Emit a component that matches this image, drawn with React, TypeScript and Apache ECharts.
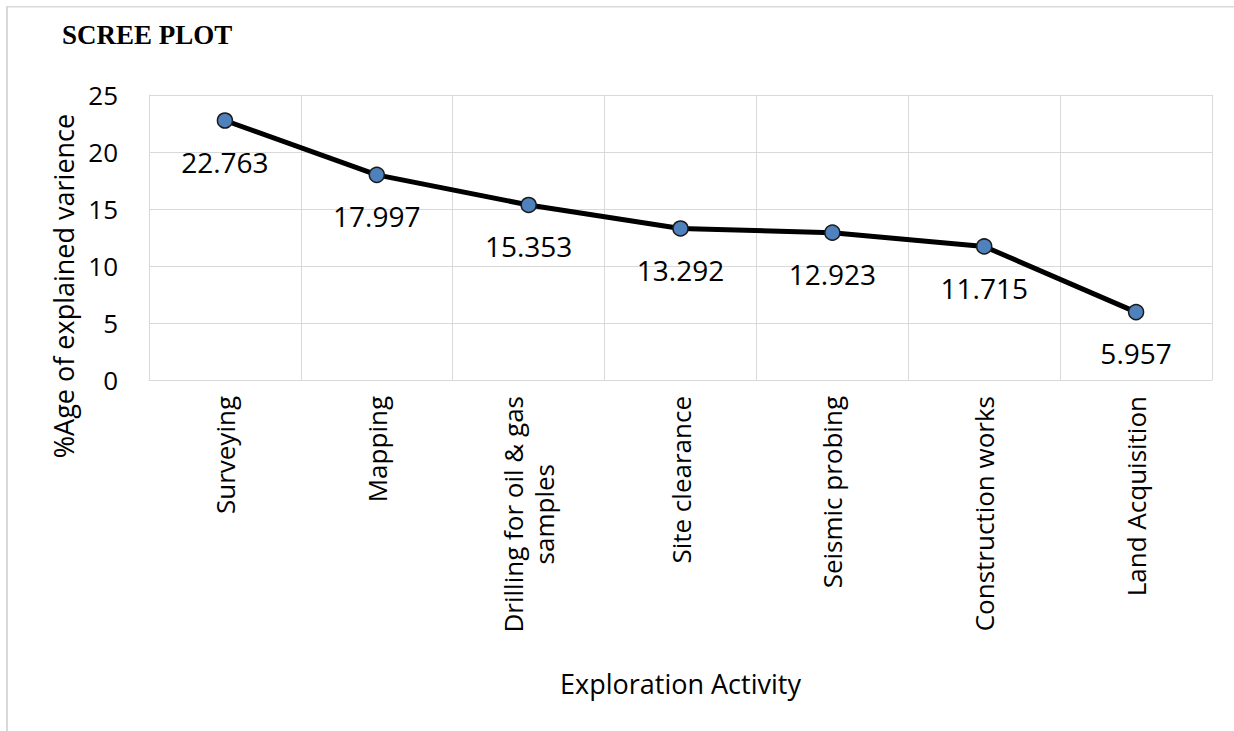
import React, { useEffect, useRef } from "react";
import * as echarts from "echarts";

// Scree plot: share of explained variance per exploration activity
const activities = [
  "Surveying",
  "Mapping",
  "Drilling for oil & gas\nsamples",
  "Site clearance",
  "Seismic probing",
  "Construction works",
  "Land Acquisition",
];
const variance = [22.763, 17.997, 15.353, 13.292, 12.923, 11.715, 5.957];
const yTicks = { min: 0, max: 25, interval: 5 };

const FONT = "'Open Sans', 'Noto Sans', sans-serif";
const GRID_COLOR = "#d9d9d9";

export default function App() {
  const ref = useRef<HTMLDivElement>(null);

  useEffect(() => {
    if (!ref.current) return;
    const chart = echarts.init(ref.current, undefined, { renderer: "svg" });
    chart.setOption({
      animation: false,
      backgroundColor: "#ffffff",
      grid: { left: 143, top: 89, right: 22, bottom: 351, containLabel: false },
      graphic: [
        {
          type: "rect",
          x: 0,
          y: 0,
          shape: { x: 1, y: 0.5, width: 1400, height: 900 },
          style: { fill: "none", stroke: GRID_COLOR, lineWidth: 2 },
          silent: true,
        },
        {
          type: "text",
          x: 56,
          y: 29,
          style: {
            text: "SCREE PLOT",
            font: "bold 27px 'Liberation Serif', 'Times New Roman', serif",
            fill: "#000",
            textAlign: "left",
            textVerticalAlign: "middle",
          },
        },
        {
          type: "text",
          x: 57,
          y: 280,
          rotation: Math.PI / 2,
          style: {
            text: "%Age of explained varience",
            fontSize: 27,
            fontFamily: FONT,
            fill: "#000",
            textAlign: "center",
            textVerticalAlign: "middle",
          },
        },
      ],
      xAxis: {
        type: "category",
        data: activities,
        boundaryGap: true,
        name: "Exploration Activity",
        nameLocation: "middle",
        nameGap: 290,
        nameTextStyle: { fontSize: 27, fontFamily: FONT, color: "#000" },
        axisLine: { show: true, lineStyle: { color: GRID_COLOR, width: 1 } },
        axisTick: { show: false },
        splitLine: { show: true, lineStyle: { color: GRID_COLOR, width: 1 } },
        axisLabel: {
          rotate: 90,
          margin: 16,
          interval: 0,
          fontSize: 26,
          fontFamily: FONT,
          color: "#000",
          formatter: (v: string) =>
            v
              .split("\n")
              .map((line) => `{c|${line}}`)
              .join("\n"),
          rich: {
            c: {
              align: "center",
              fontSize: 26,
              fontFamily: FONT,
              color: "#000",
              lineHeight: 31,
            },
          },
        },
      },
      yAxis: {
        type: "value",
        min: yTicks.min,
        max: yTicks.max,
        interval: yTicks.interval,
        axisLine: { show: true, lineStyle: { color: GRID_COLOR, width: 1 } },
        axisTick: { show: false },
        splitLine: { show: true, lineStyle: { color: GRID_COLOR, width: 1 } },
        axisLabel: {
          margin: 31,
          fontSize: 26,
          fontFamily: FONT,
          color: "#000",
        },
      },
      series: [
        {
          type: "line",
          data: variance,
          symbol: "circle",
          symbolSize: 15,
          lineStyle: { color: "#000", width: 5 },
          itemStyle: { color: "#4f81bd", borderColor: "#1a1a1a", borderWidth: 1.5 },
          label: {
            show: true,
            position: "bottom",
            distance: 19,
            fontSize: 28,
            fontFamily: FONT,
            color: "#000",
            formatter: (p: any) => String(p.value),
          },
          z: 3,
        },
      ],
    });
    return () => chart.dispose();
  }, []);

  return (
    <div
      ref={ref}
      style={{ position: "absolute", left: 6, top: 6, width: 1228, height: 725 }}
    />
  );
}
